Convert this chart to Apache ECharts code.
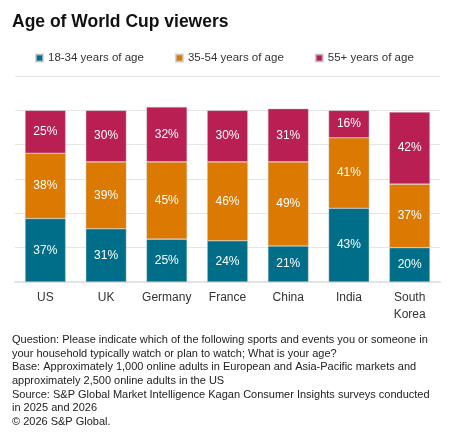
<!DOCTYPE html>
<html>
<head>
<meta charset="utf-8" />
<title>Age of World Cup viewers</title>
<script src="https://cdn.jsdelivr.net/npm/echarts@6/dist/echarts.min.js"></script>
<style>
  html, body { margin: 0; padding: 0; background: #fff; }
  #main { width: 453px; height: 439px; }
</style>
</head>
<body>
<div id="main"></div>
<script>
// 数据
const categories = ['US', 'UK', 'Germany', 'France', 'China', 'India', 'South\nKorea'];
const age18to34 = [37, 31, 25, 24, 21, 43, 20];
const age35to54 = [38, 39, 45, 46, 49, 41, 37];
const age55plus = [25, 30, 32, 30, 31, 16, 42];
const seriesNames = ['18-34 years of age', '35-54 years of age', '55+ years of age'];
const colors = ['#006e89', '#dc7900', '#b91f52'];

const footnote = [
    'Question: Please indicate which of the following sports and events you or someone in',
    'your household typically watch or plan to watch; What is your age?',
    'Base: Approximately 1,000 online adults in European and Asia-Pacific markets and',
    'approximately 2,500 online adults in the US',
    'Source: S&P Global Market Intelligence Kagan Consumer Insights surveys conducted',
    'in 2025 and 2026',
    '\u00a9 2026 S&P Global.'
];

const fontFamily = '"Liberation Sans", Arial, sans-serif';

const makeSeries = function (name, data, color) {
    return {
        name: name,
        type: 'bar',
        stack: 'age',
        data: data,
        barWidth: '67%',
        itemStyle: {color: color, borderColor: 'rgba(200,200,200,0.7)', borderWidth: 0.6},
        label: {
            show: true,
            position: 'inside',
            color: '#fff',
            fontSize: 12,
            fontFamily: fontFamily,
            formatter: '{c}%'
        }
    };
};

let myChart = echarts.init(document.getElementById('main'));
let option = {
    animation: false,
    color: colors,
    title: {
        text: 'Age of World Cup viewers',
        left: 7,
        top: 8,
        textStyle: {fontSize: 17.5, fontWeight: 'bold', color: '#111', fontFamily: fontFamily}
    },
    legend: {
        left: 30,
        top: 47,
        itemGap: 31,
        itemWidth: 7,
        itemHeight: 7,
        icon: 'rect',
        textStyle: {fontSize: 11.5, color: '#333', fontFamily: fontFamily},
        data: seriesNames
    },
    grid: {left: 15, right: 13, top: 76, bottom: 157},
    xAxis: {
        type: 'category',
        data: categories,
        axisTick: {show: false},
        axisLine: {lineStyle: {color: '#e4e4e4', width: 2}},
        axisLabel: {interval: 0, color: '#333', fontSize: 12, margin: 7, lineHeight: 17, fontFamily: fontFamily}
    },
    yAxis: {
        type: 'value',
        min: 0,
        max: 120,
        interval: 20,
        axisLabel: {show: false},
        axisLine: {show: false},
        axisTick: {show: false},
        splitLine: {lineStyle: {color: '#e6e6e6', width: 1}}
    },
    graphic: [{
        type: 'text',
        left: 12,
        top: 333,
        style: {
            text: footnote.join('\n'),
            fill: '#222',
            font: '11px ' + fontFamily,
            lineHeight: 13.7
        }
    }],
    series: [
        makeSeries(seriesNames[0], age18to34, colors[0]),
        makeSeries(seriesNames[1], age35to54, colors[1]),
        makeSeries(seriesNames[2], age55plus, colors[2])
    ]
};
myChart.setOption(option);
</script>
</body>
</html>
